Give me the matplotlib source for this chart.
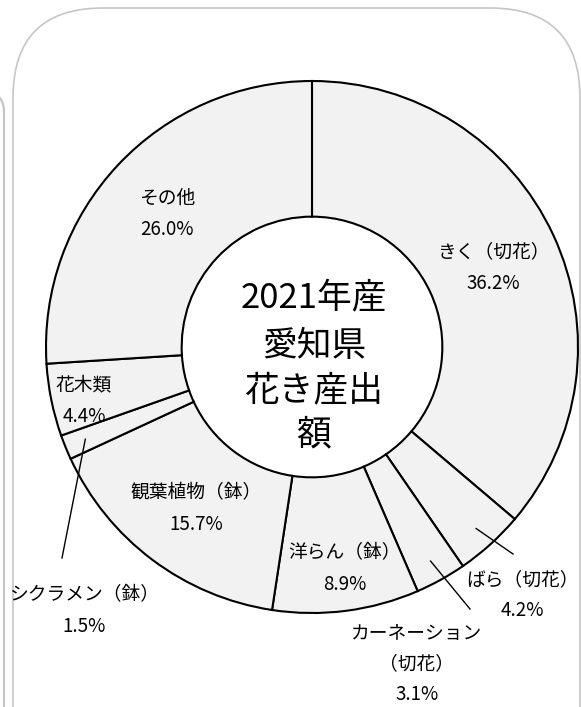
import matplotlib
matplotlib.use("Agg")
import matplotlib.pyplot as plt
from matplotlib.patches import FancyBboxPatch
import numpy as np

plt.rcParams['font.family'] = ['Noto Sans CJK JP', 'DejaVu Sans']

# data (share of 2021 flower output, %)
labels = ["きく（切花）", "ばら（切花）", "カーネーション\n（切花）", "洋らん（鉢）",
          "観葉植物（鉢）", "シクラメン（鉢）", "花木類", "その他"]
values = [36.2, 4.2, 3.1, 8.9, 15.7, 1.5, 4.4, 26.0]
center_title = ["2021年産", "愛知県", "花き産出", "額"]

# layout (pixels in the 581x707 picture)
W, H = 581, 707
CX, CY, R = 312, 347, 266


def px(x, y):
    # pixel position -> pie data units
    return (x - CX) / R, (CY - y) / R


# label position: centre of first line
label_pos = {
    "きく（切花）": (493, 252),
    "ばら（切花）": (522, 580),
    "カーネーション\n（切花）": (417, 633),
    "洋らん（鉢）": (345, 553),
    "観葉植物（鉢）": (196, 493),
    "シクラメン（鉢）": (84, 595),
    "花木類": (84, 385),
    "その他": (167, 198),
}
line_gap = 31
# labels that sit outside the ring get a leader line
leader_end = {
    "ばら（切花）": (513, 554),
    "カーネーション\n（切花）": (470, 609),
    "シクラメン（鉢）": (62, 558),
}

fig = plt.figure(figsize=(W / 100, H / 100), dpi=100)

# background frames
bg = fig.add_axes([0, 0, 1, 1])
bg.set_xlim(0, W)
bg.set_ylim(H, 0)
bg.axis('off')
bg.add_patch(FancyBboxPatch((13, 8), 567, 900, boxstyle="round,pad=0,rounding_size=90",
                            fill=False, edgecolor='#c6c6c6', linewidth=1.2))
bg.add_patch(FancyBboxPatch((-400, 92), 404, 800, boxstyle="round,pad=0,rounding_size=20",
                            fill=False, edgecolor='#c6c6c6', linewidth=1.6))

ax = fig.add_axes([0, 0, 1, 1])
ax.patch.set_alpha(0)

wedges, _ = ax.pie(values, startangle=90, counterclock=False, radius=1,
                   colors=['#f2f2f2'] * len(values),
                   wedgeprops=dict(width=0.51, edgecolor='black', linewidth=1.5))
ax.set_aspect('auto')
ax.set_xlim(-CX / R, (W - CX) / R)
ax.set_ylim(-(H - CY) / R, CY / R)
ax.axis('off')

# cumulative angles for leader lines
cum = np.cumsum([0] + values)
for i, lab in enumerate(labels):
    x, y = label_pos[lab]
    lines = lab.split("\n") + [f"{values[i]:.1f}%"]
    for k, t in enumerate(lines):
        ax.text(*px(x, y + k * line_gap), t, ha='center', va='center', fontsize=13.5, color='black')
    if lab in leader_end:
        mid = (cum[i] + cum[i + 1]) / 2
        ang = np.deg2rad(90 - mid / 100 * 360)
        x0, y0 = 0.92 * np.cos(ang), 0.92 * np.sin(ang)
        x1, y1 = px(*leader_end[lab])
        ax.plot([x0, x1], [y0, y1], color='black', linewidth=1.0)

# title in the hole
title_y = [299, 346, 391, 435]
for t, yy in zip(center_title, title_y):
    ax.text(*px(CX + 2, yy), t, ha='center', va='center', fontsize=25, color='black')

fig.savefig("out.png", dpi=100)
